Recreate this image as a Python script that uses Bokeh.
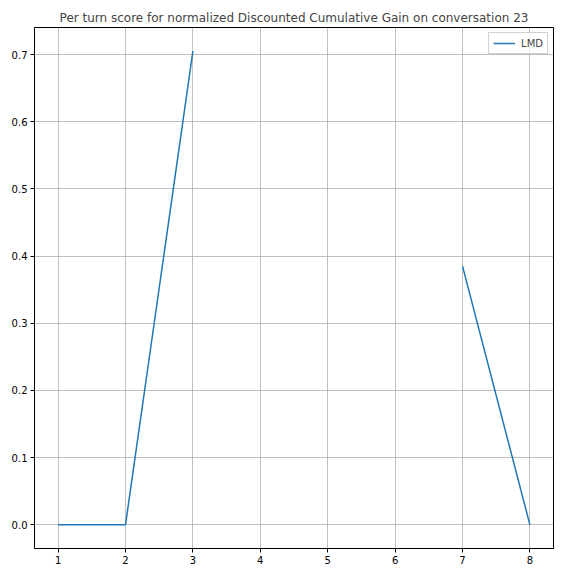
import numpy as np
from bokeh.plotting import figure
from bokeh.models import FixedTicker, Range1d, Legend, LegendItem, NumeralTickFormatter
from bokeh.embed import file_html
from bokeh.resources import INLINE

turns = [1, 2, 3, 4, 5, 6, 7, 8]
lmd_scores = [0.0, 0.0, 0.705, np.nan, np.nan, np.nan, 0.385, 0.0]
x_ticks = [1, 2, 3, 4, 5, 6, 7, 8]
y_ticks = [0.0, 0.1, 0.2, 0.3, 0.4, 0.5, 0.6, 0.7]
title_text = "Per turn score for normalized Discounted Cumulative Gain on conversation 23"

FONT = "DejaVu Sans"

p = figure(width=576, height=576, output_backend="svg", toolbar_location=None,
           x_range=Range1d(0.65, 8.35), y_range=Range1d(-0.03525, 0.74025),
           min_border_left=34, min_border_right=23, min_border_top=27, min_border_bottom=28)

p.title.text = title_text
p.title.align = "center"
p.title.text_font = FONT
p.title.text_font_size = "12px"
p.title.text_font_style = "normal"
p.title.standoff = 5

p.background_fill_color = "white"
p.border_fill_color = "white"
p.outline_line_color = "black"
p.outline_line_width = 1

for ax in (p.xaxis[0], p.yaxis[0]):
    ax.major_label_text_font = FONT
    ax.major_label_text_font_size = "10px"
    ax.major_label_text_color = "black"
    ax.axis_line_color = "black"
    ax.major_tick_line_color = "black"
    ax.major_tick_out = 4
    ax.major_tick_in = 0
    ax.minor_tick_line_color = None
    ax.major_label_standoff = 3

p.xaxis[0].ticker = FixedTicker(ticks=x_ticks)
p.yaxis[0].ticker = FixedTicker(ticks=y_ticks)
p.yaxis[0].formatter = NumeralTickFormatter(format="0.0")

p.grid.grid_line_color = "#b0b0b0"
p.grid.grid_line_width = 0.8

r = p.line(turns, lmd_scores, line_color="#1f77b4", line_width=1.5)

legend = Legend(items=[LegendItem(label="LMD", renderers=[r])], location="top_right",
                label_text_font=FONT, label_text_font_size="10px",
                border_line_color="#d0d0d0", border_line_alpha=1.0,
                background_fill_alpha=0.8, padding=4, margin=5,
                glyph_width=22, glyph_height=12, label_standoff=6, spacing=0)
p.add_layout(legend)

open("out.html", "w").write(file_html(p, INLINE))
